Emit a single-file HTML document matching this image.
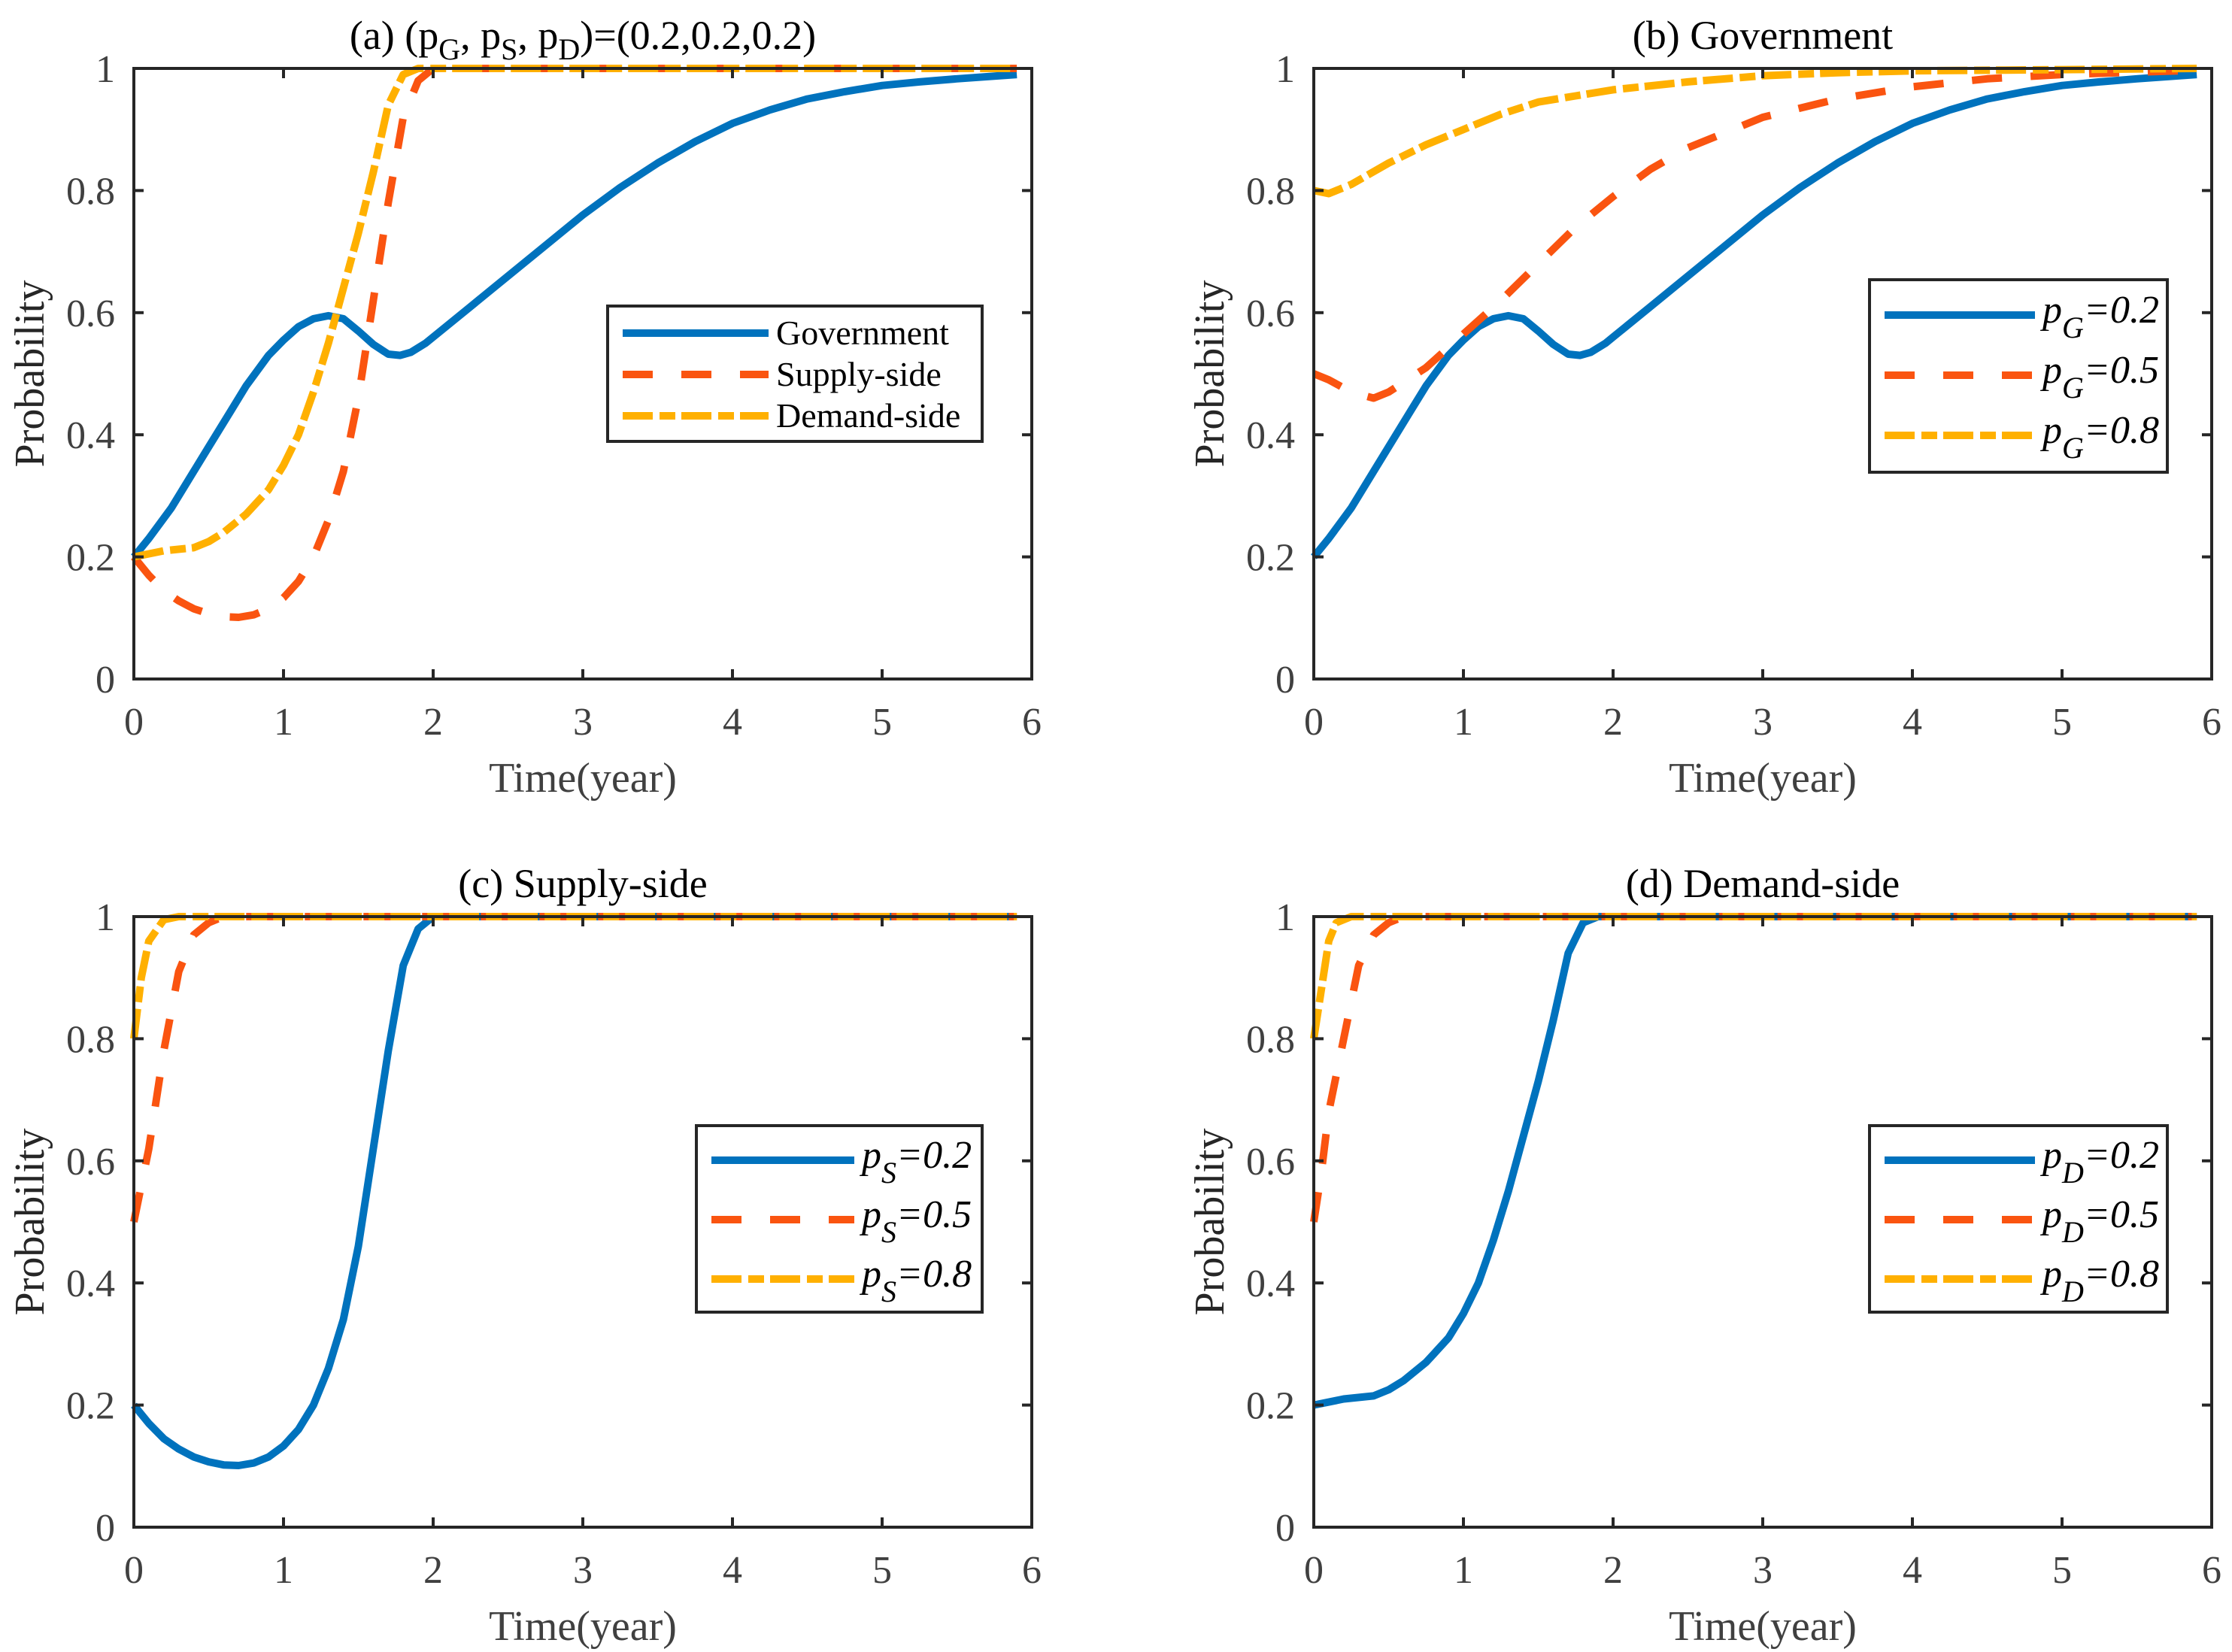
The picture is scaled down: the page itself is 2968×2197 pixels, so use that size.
<!DOCTYPE html>
<html><head><meta charset="utf-8">
<style>
html,body{margin:0;padding:0;background:#fff;}
svg{display:block;}
svg text{font-family:"Liberation Serif","Times New Roman",serif;}
</style></head>
<body>
<svg id="fig" width="2968" height="2197" viewBox="0 0 2968 2197" xmlns="http://www.w3.org/2000/svg"></svg>
<script>
// ---- data ----
const tGov = [0,0.1,0.25,0.4,0.5,0.65,0.75,0.9,1,1.1,1.2,1.3,1.4,1.5,1.6,1.7,1.78,1.85,1.95,2,2.25,2.5,2.75,3,3.25,3.5,3.75,4,4.25,4.5,4.75,5,5.25,5.5,5.9];
const vGov02 = [0.2,0.23,0.28,0.34,0.38,0.44,0.48,0.53,0.555,0.577,0.59,0.595,0.59,0.57,0.548,0.532,0.53,0.535,0.55,0.56,0.61,0.66,0.71,0.76,0.805,0.845,0.88,0.91,0.932,0.95,0.962,0.972,0.978,0.983,0.99];
const tSup = [0,0.1,0.2,0.3,0.4,0.5,0.6,0.7,0.8,0.9,1,1.1,1.2,1.3,1.4,1.5,1.6,1.7,1.8,1.9,2,5.9];
const vSup02 = [0.2,0.17,0.145,0.128,0.115,0.107,0.102,0.101,0.105,0.115,0.133,0.16,0.2,0.26,0.34,0.46,0.62,0.78,0.92,0.98,1,1];
const tDem = [0,0.2,0.4,0.5,0.6,0.75,0.9,1,1.1,1.2,1.3,1.4,1.5,1.6,1.7,1.8,1.9,5.9];
const vDem02 = [0.2,0.21,0.215,0.225,0.24,0.27,0.31,0.35,0.4,0.47,0.55,0.64,0.73,0.83,0.94,0.99,1,1];
const tG05 = [0,0.1,0.25,0.4,0.5,0.75,1,1.25,1.5,1.75,2,2.25,2.5,2.75,3,3.5,4,4.5,5,5.9];
const vG05 = [0.5,0.49,0.47,0.46,0.47,0.51,0.565,0.62,0.68,0.74,0.79,0.835,0.87,0.895,0.92,0.95,0.97,0.983,0.99,0.997];
const tG08 = [0,0.1,0.25,0.5,0.75,1,1.25,1.5,1.75,2,2.5,3,3.5,4,5,5.9];
const vG08 = [0.8,0.795,0.81,0.845,0.875,0.9,0.925,0.945,0.955,0.965,0.978,0.988,0.993,0.996,0.998,1];
const tS05 = [0,0.1,0.2,0.3,0.4,0.5,0.6,5.9];
const vS05 = [0.5,0.62,0.78,0.91,0.97,0.99,1,1];
const tS08 = [0,0.05,0.1,0.2,0.3,5.9];
const vS08 = [0.8,0.9,0.96,0.995,1,1];
const tD05 = [0,0.05,0.1,0.2,0.3,0.4,0.5,0.6,5.9];
const vD05 = [0.5,0.58,0.68,0.8,0.92,0.97,0.99,1,1];
const tD08 = [0,0.05,0.1,0.15,0.25,5.9];
const vD08 = [0.8,0.88,0.96,0.99,1,1];
const xTicks = [0,1,2,3,4,5,6];
const yTicks = [0,0.2,0.4,0.6,0.8,1];
const yTickLabels = ["0","0.2","0.4","0.6","0.8","1"];

const NS="http://www.w3.org/2000/svg";
const svg=document.getElementById('fig');
const COL=["#0072BD","#FA5410","#FFB000"];
const DASH=["none","40 38","40 9 21 8"];
const FONT='"Liberation Serif","Times New Roman",serif';
function mk(tag,attrs,parent){const e=document.createElementNS(NS,tag);for(const k in attrs)e.setAttribute(k,attrs[k]);if(tag==='text')e.setAttribute('font-family',FONT);(parent||svg).appendChild(e);return e;}

function panel(id,x0,y0,title,series,legend){
  const W=1194,H=812;
  const g=mk('g',{});
  
  
  const sx=v=>x0+v/6*W, sy=v=>y0+H-v*H;
  series.forEach((s,i)=>{
    const d=s.t.map((t,j)=>(j?'L':'M')+sx(t).toFixed(1)+' '+sy(s.v[j]).toFixed(1)).join(' ');
    const p=mk('path',{d:d,fill:'none',stroke:COL[i],'stroke-width':10,'stroke-dasharray':DASH[i],'stroke-linejoin':'round'},g);
    
    
  });
  const box=mk('rect',{x:x0,y:y0,width:W,height:H,fill:'none',stroke:'#262626','stroke-width':4},g);
  
  
  xTicks.forEach(v=>{
    const X=sx(v);
    mk('line',{x1:X,x2:X,y1:y0+H,y2:y0+H-13,stroke:'#262626','stroke-width':4},g);
    mk('line',{x1:X,x2:X,y1:y0,y2:y0+13,stroke:'#262626','stroke-width':4},g);
    const t=mk('text',{x:X,y:y0+H+74,'text-anchor':'middle','font-size':52,fill:'#404040'},g);
    t.textContent=v;
    
    
  });
  yTicks.forEach((v,i)=>{
    const Y=sy(v);
    mk('line',{x1:x0,x2:x0+13,y1:Y,y2:Y,stroke:'#262626','stroke-width':4},g);
    mk('line',{x1:x0+W,x2:x0+W-13,y1:Y,y2:Y,stroke:'#262626','stroke-width':4},g);
    const t=mk('text',{x:x0-25,y:Y+18,'text-anchor':'end','font-size':52,fill:'#404040'},g);
    t.textContent=yTickLabels[i];
    
    
  });
  const xl=mk('text',{x:x0+W/2,y:y0+H+150,'text-anchor':'middle','font-size':56,fill:'#404040'},g);
  xl.textContent='Time(year)';
  
  
  const yl=mk('text',{x:0,y:0,'text-anchor':'middle','font-size':56,fill:'#262626',transform:`translate(${x0-120},${y0+H/2}) rotate(-90)`},g);
  yl.textContent='Probability';
  
  
  const tt=mk('text',{x:x0+W/2,y:y0-26,'text-anchor':'middle','font-size':54,fill:'#000'},g);
  tt.innerHTML=title;
  
  
  const L=legend;
  const lg=mk('g',{},g);
  
  
  mk('rect',{x:L.x,y:L.y,width:L.w,height:L.h,fill:'#fff',stroke:'#262626','stroke-width':4},lg);
  L.labels.forEach((lab,i)=>{
    const Y=L.y+L.r0+i*L.dy;
    const ln=mk('line',{x1:L.x+20,x2:L.x+20+L.len,y1:Y,y2:Y,stroke:COL[i],'stroke-width':10,'stroke-dasharray':DASH[i]},lg);
    
    
    const t=mk('text',{x:L.x+L.len+30,y:Y+(L.math?10:15),'font-size':L.math?52:46,fill:'#000'},lg);
    t.innerHTML=lab;
    
    
  });
}
function plab(sub,val){return `<tspan font-style="italic">p</tspan><tspan font-style="italic" font-size="40" dy="20">${sub}</tspan><tspan font-style="italic" dy="-20">=${val}</tspan>`;}
const titleA='(a) (p<tspan font-size="40" dy="14">G</tspan><tspan dy="-14">, p</tspan><tspan font-size="40" dy="14">S</tspan><tspan dy="-14">, p</tspan><tspan font-size="40" dy="14">D</tspan><tspan dy="-14">)=(0.2,0.2,0.2)</tspan>';

panel('a',178,91,titleA,
  [{t:tGov,v:vGov02},{t:tSup,v:vSup02},{t:tDem,v:vDem02}],
  {x:808,y:407,w:498,h:180,r0:36,dy:55,len:194,math:false,labels:['Government','Supply-side','Demand-side']});
panel('b',1747,91,'(b) Government',
  [{t:tGov,v:vGov02},{t:tG05,v:vG05},{t:tG08,v:vG08}],
  {x:2486,y:372,w:396,h:256,r0:47,dy:80,len:200,math:true,labels:[plab('G','0.2'),plab('G','0.5'),plab('G','0.8')]});
panel('c',178,1219,'(c) Supply-side',
  [{t:tSup,v:vSup02},{t:tS05,v:vS05},{t:tS08,v:vS08}],
  {x:926,y:1497,w:380,h:248,r0:46,dy:79,len:190,math:true,labels:[plab('S','0.2'),plab('S','0.5'),plab('S','0.8')]});
panel('d',1747,1219,'(d) Demand-side',
  [{t:tDem,v:vDem02},{t:tD05,v:vD05},{t:tD08,v:vD08}],
  {x:2486,y:1497,w:396,h:248,r0:46,dy:79,len:200,math:true,labels:[plab('D','0.2'),plab('D','0.5'),plab('D','0.8')]});
</script>
</body></html>
